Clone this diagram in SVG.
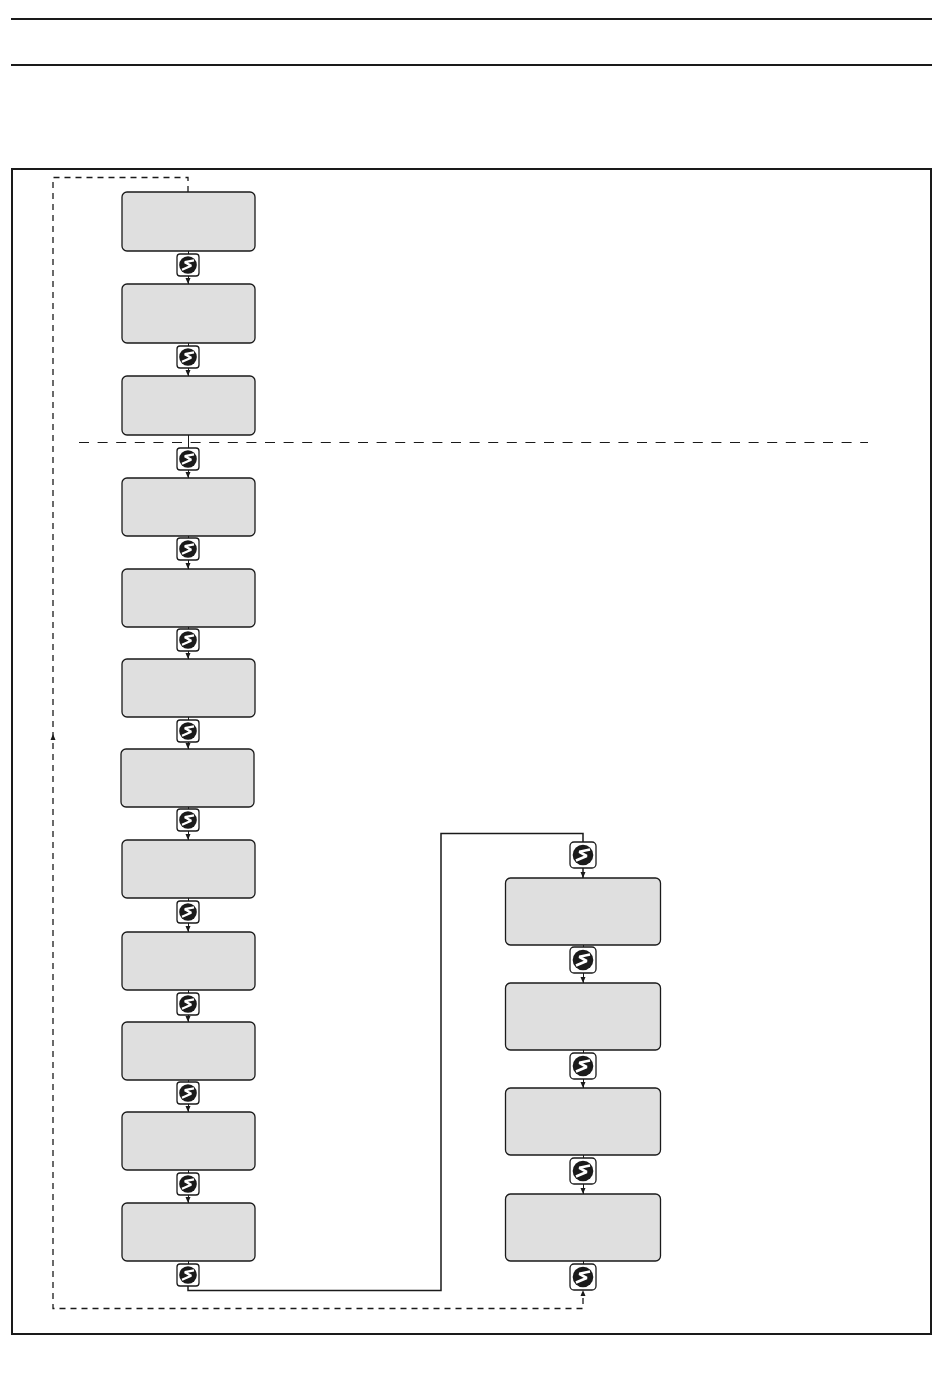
<svg xmlns="http://www.w3.org/2000/svg" width="950" height="1374" viewBox="0 0 950 1374">
<style>
.box{fill:#dfdfdf;stroke:#1a1a1a;stroke-width:1.3}
.rule{stroke:#1a1a1a;stroke-width:2;fill:none}
.solid{stroke:#1a1a1a;stroke-width:1.5;fill:none}
.thin{stroke:#1a1a1a;stroke-width:1;fill:none}
.dash{stroke:#1a1a1a;stroke-width:1.3;fill:none;stroke-dasharray:6 5}
.sep{stroke:#1a1a1a;stroke-width:1.2;fill:none;stroke-dasharray:10 8.600}
.head{fill:#1a1a1a}
.zig{fill:none;stroke:#fff;stroke-linejoin:bevel}
</style>
<defs>
<g id="s">
<rect x="-11" y="-11" width="22" height="22" rx="3" fill="#fff" stroke="#1a1a1a" stroke-width="1.3"/>
<circle r="8.800" fill="#1a1a1a"/>
<path class="zig" stroke-width="2.300" d="M6-4.700 L-3.200-2.800 L3.200 0.800 L-6 4.700"/>
</g>
<g id="sL">
<rect x="-13" y="-13" width="26" height="26" rx="4" fill="#fff" stroke="#1a1a1a" stroke-width="1.3"/>
<circle r="10.300" fill="#1a1a1a"/>
<path class="zig" stroke-width="2.600" d="M7-5.500 L-3.700-3.200 L3.700 1 L-7 5.500"/>
</g>
<path id="ah" class="head" d="M-2.500-6 L2.500-6 L0 0 Z"/>
</defs>
<g id="page-rules">
<path class="rule" d="M11 19H932M11 65H932"/>
<rect class="rule" x="12" y="169" width="919" height="1165"/>
</g>
<g id="connectors">
<path class="dash" d="M188 192V177.500H53V1308.500H583V1293"/>
<path class="sep" d="M79 442.500H868"/>
<path class="thin" d="M188.500 251V284M188.500 343V376M188.500 536V569M188.500 627V659M188.500 717V749M188.500 807V840M188.500 898V932M188.500 990V1022M188.500 1080V1112M188.500 1170V1203M188.500 1261V1275M583.500 945V983M583.500 1050V1088M583.500 1155V1194M583.500 1261V1277"/>
<path class="thin" d="M188.500 435V478"/>
<path class="solid" d="M188 1275V1290.500H441V833.500H583V878"/>
<g>
<use href="#ah" x="188" y="284"/><use href="#ah" x="188" y="376"/><use href="#ah" x="188" y="478"/><use href="#ah" x="188" y="569"/><use href="#ah" x="188" y="659"/><use href="#ah" x="188" y="749"/><use href="#ah" x="188" y="840"/><use href="#ah" x="188" y="932"/><use href="#ah" x="188" y="1022"/><use href="#ah" x="188" y="1112"/><use href="#ah" x="188" y="1203"/>
<use href="#ah" x="583" y="878"/><use href="#ah" x="583" y="983"/><use href="#ah" x="583" y="1088"/><use href="#ah" x="583" y="1194"/>
<use href="#ah" transform="translate(583 1290) rotate(180)"/>
<use href="#ah" transform="translate(53 734) rotate(180)"/>
</g>
</g>
<g id="node-1"><rect class="box" x="122" y="192" width="133" height="59" rx="5"/><use href="#s" x="188" y="265"/></g>
<g id="node-2"><rect class="box" x="122" y="284" width="133" height="59" rx="5"/><use href="#s" x="188" y="357"/></g>
<g id="node-3"><rect class="box" x="122" y="376" width="133" height="59" rx="5"/><use href="#s" x="188" y="459"/></g>
<g id="node-4"><rect class="box" x="122" y="478" width="133" height="58" rx="5"/><use href="#s" x="188" y="549"/></g>
<g id="node-5"><rect class="box" x="122" y="569" width="133" height="58" rx="5"/><use href="#s" x="188" y="640"/></g>
<g id="node-6"><rect class="box" x="122" y="659" width="133" height="58" rx="5"/><use href="#s" x="188" y="731"/></g>
<g id="node-7"><rect class="box" x="121" y="749" width="133" height="58" rx="5"/><use href="#s" x="188" y="820"/></g>
<g id="node-8"><rect class="box" x="122" y="840" width="133" height="58" rx="5"/><use href="#s" x="188" y="912"/></g>
<g id="node-9"><rect class="box" x="122" y="932" width="133" height="58" rx="5"/><use href="#s" x="188" y="1004"/></g>
<g id="node-10"><rect class="box" x="122" y="1022" width="133" height="58" rx="5"/><use href="#s" x="188" y="1093"/></g>
<g id="node-11"><rect class="box" x="122" y="1112" width="133" height="58" rx="5"/><use href="#s" x="188" y="1184"/></g>
<g id="node-12"><rect class="box" x="122" y="1203" width="133" height="58" rx="5"/><use href="#s" x="188" y="1275"/></g>
<g id="node-13"><use href="#sL" x="583" y="855"/><rect class="box" x="505.500" y="878" width="155" height="67" rx="5"/><use href="#sL" x="583" y="960"/></g>
<g id="node-14"><rect class="box" x="505.500" y="983" width="155" height="67" rx="5"/><use href="#sL" x="583" y="1066"/></g>
<g id="node-15"><rect class="box" x="505.500" y="1088" width="155" height="67" rx="5"/><use href="#sL" x="583" y="1171"/></g>
<g id="node-16"><rect class="box" x="505.500" y="1194" width="155" height="67" rx="5"/><use href="#sL" x="583" y="1277"/></g>
</svg>
